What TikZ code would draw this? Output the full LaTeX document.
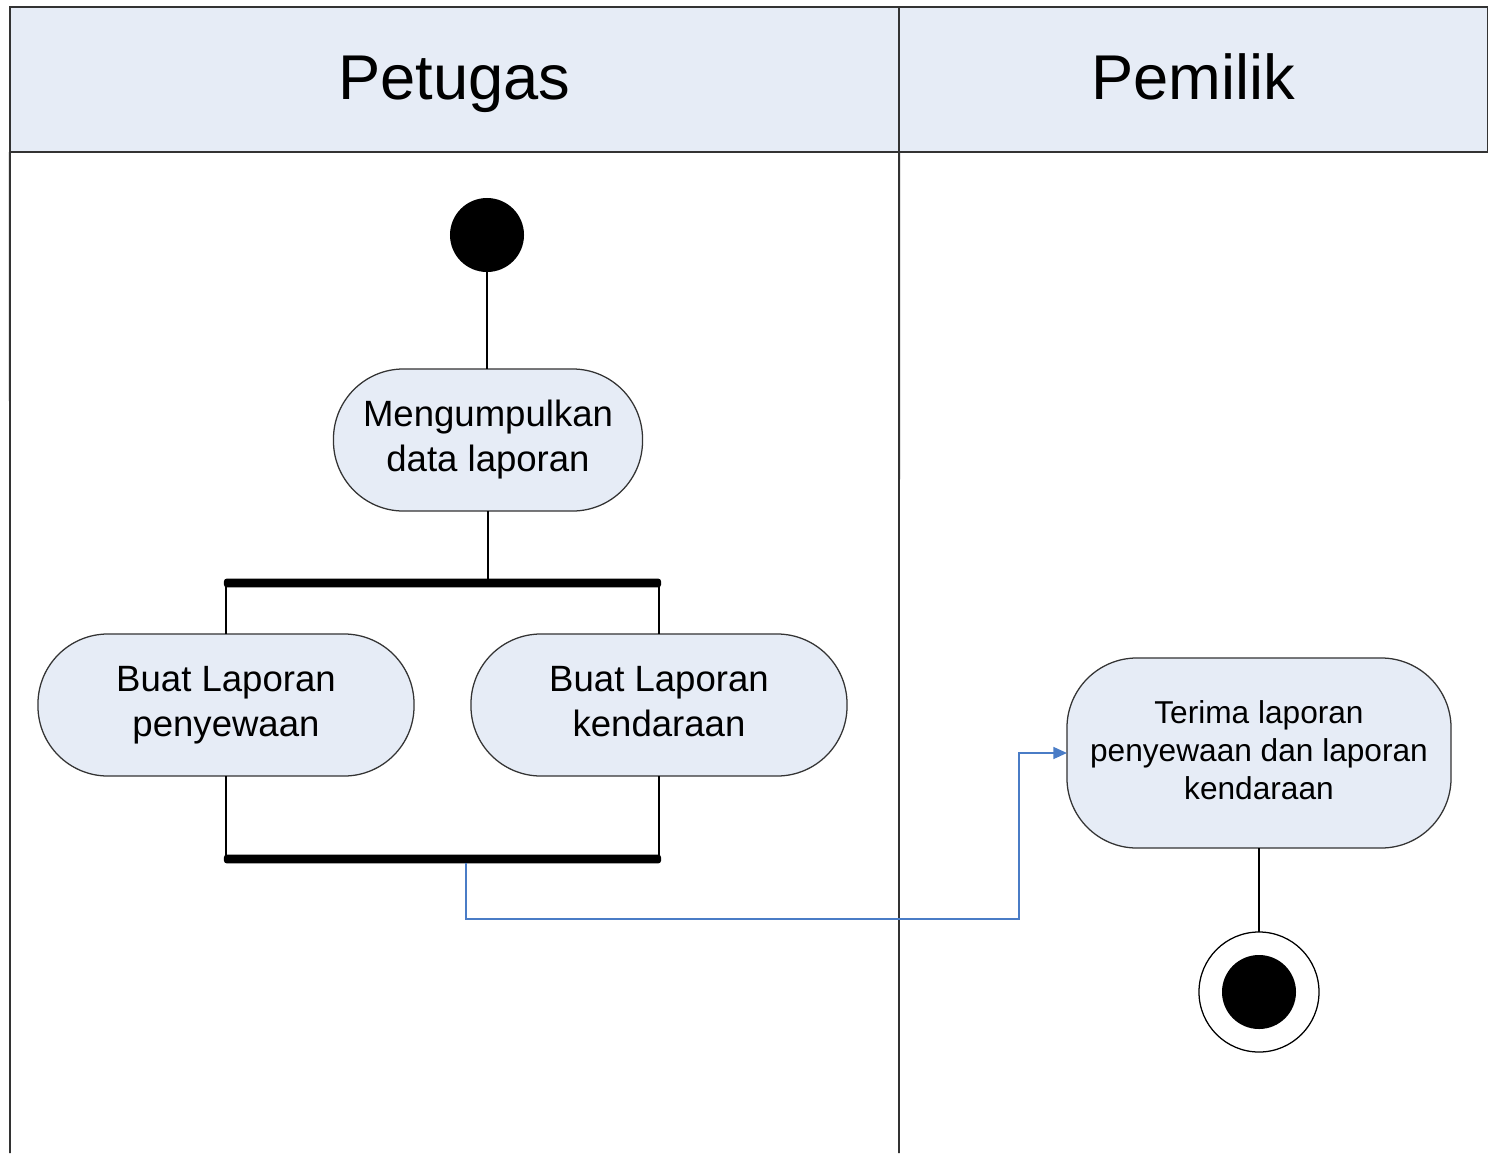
\documentclass[tikz,border=0pt]{standalone}
\usepackage{fontspec}
\setmainfont{Liberation Sans}
\usepackage{tikz}
\usetikzlibrary{calc,arrows.meta}
\definecolor{lanefill}{HTML}{E6ECF6}
\definecolor{flowblue}{HTML}{4A7CC6}
\definecolor{edge}{HTML}{333333}

\begin{document}
\begin{tikzpicture}[x=0.025cm,y=-0.025cm,every node/.style={outer sep=0pt,inner sep=0pt}]
\tikzstyle{lane}=[draw=edge,fill=lanefill,line width=1.3pt,minimum height=3.625cm,
   text height=1.14cm,text depth=0.12cm,font=\fontsize{45}{50}\selectfont]
\tikzstyle{act}=[draw=edge,fill=lanefill,line width=0.9pt,align=center,rounded corners=1.75cm,font=\fontsize{26}{32}\selectfont]
\tikzstyle{bar}=[fill=black,rounded corners=2pt,minimum width=10.925cm,minimum height=0.22cm]
\tikzstyle{link}=[draw=black,line width=1.1pt]
\tikzstyle{flow}=[draw=flowblue,line width=1.1pt,-{Triangle[length=0.34cm,width=0.3cm]}]

\useasboundingbox (0,0) rectangle (1488,1153);

% swimlanes
\node (L1) at (454.5,79.5) [lane,minimum width=22.225cm] {Petugas};
\node (L2) at (1193.5,79.5) [lane,minimum width=14.725cm] {Pemilik};
\draw [edge,line width=1.3pt] (L1.south west) -- (10,1153);
\draw [edge,line width=1.3pt] (L1.south east) -- (899,1153);

% Petugas
\node (S) at (487,235) [circle,fill=black,minimum size=1.85cm] {};

\node (A1) at (488,440) [act,minimum width=7.725cm,minimum height=3.55cm]
   {Mengumpulkan\\data laporan};
\draw [link] (S) -- (A1.north -| S);

\node (F) at (442.5,583) [bar] {};
\draw [link] (A1) -- (A1 |- F.north);

\node (A2) at (226,705) [act,minimum width=9.4cm,minimum height=3.55cm]
   {Buat Laporan\\penyewaan};
\node (A3) at (659,705) [act,minimum width=9.4cm,minimum height=3.55cm]
   {Buat Laporan\\kendaraan\vphantom{p}};
\draw [link] (F.south -| A2) -- (A2.north);
\draw [link] (F.south -| A3) -- (A3.north);

\node (J) at (442.5,859) [bar] {};
\draw [link] (A2.south) -- (A2 |- J.north);
\draw [link] (A3.south) -- (A3 |- J.north);

% Pemilik
\node (A4) at (1259,753) [act,minimum width=9.6cm,minimum height=4.75cm,
   font=\fontsize{22.5}{27}\selectfont]
   {Terima laporan\\penyewaan dan laporan\\kendaraan\vphantom{p}};

\coordinate (K) at (1019,919);
\draw [flow] ($(J.south)+(23.5,0)$) |- (K) |- (A4.west);

\node (E) at (1259,992) [circle,draw=black,line width=0.9pt,fill=white,minimum size=3cm] {};
\node (E1) at (E) [circle,fill=black,minimum size=1.85cm] {};
\draw [link] (A4.south) -- (E.north);

\end{tikzpicture}
\end{document}
